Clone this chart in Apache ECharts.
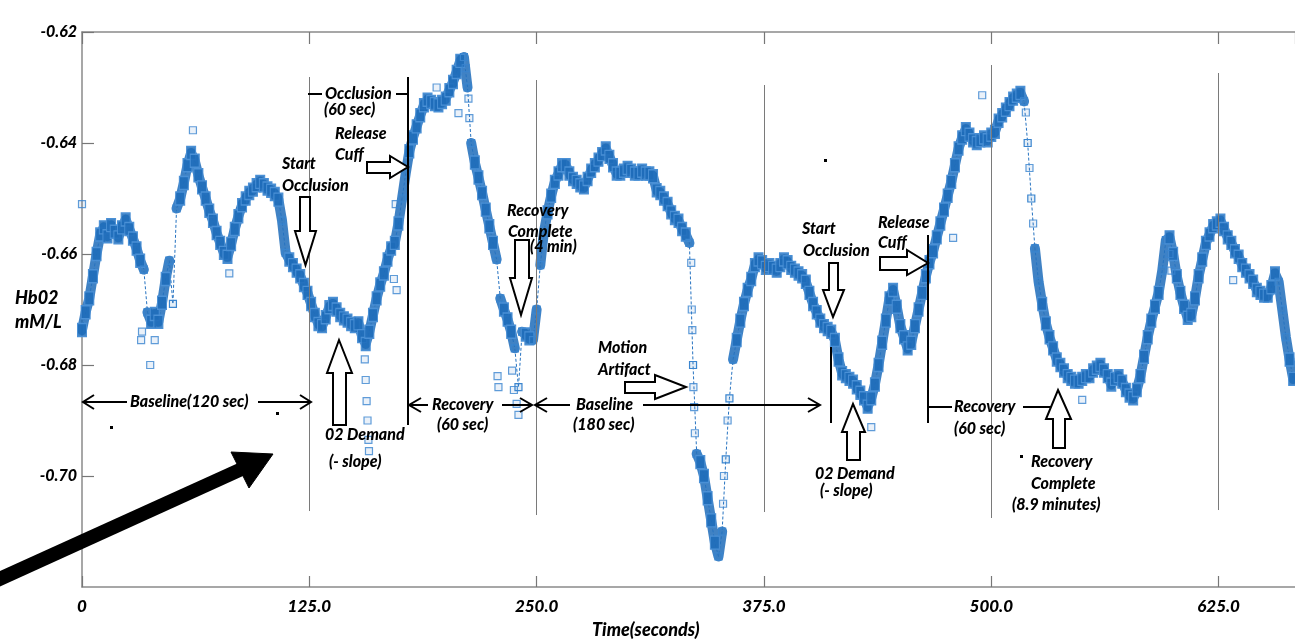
<!DOCTYPE html>
<html>
<head>
<meta charset="utf-8">
<script src="https://cdn.jsdelivr.net/npm/echarts@6/dist/echarts.min.js"></script>
<style>html,body{margin:0;padding:0;background:#fff;}#c{width:1295px;height:641px;}</style>
</head>
<body>
<div id="c"></div>
<script>
// ---- data ----
const SAMPLE_STEP = 2; // seconds between samples
const hbValues = [
-0.6737,-0.6705,-0.6680,-0.6640,-0.6600,-0.6565,-0.6552,-0.6568,-0.6548,-0.6560,
-0.6570,-0.6552,-0.6538,-0.6555,-0.6572,-0.6590,-0.6612,-0.6628,-0.6705,-0.6722,
-0.6708,-0.6722,-0.6688,-0.6645,-0.6612,-0.6690,-0.6518,-0.6500,-0.6472,-0.6440,
-0.6418,-0.6432,-0.6458,-0.6480,-0.6500,-0.6522,-0.6540,-0.6562,-0.6580,-0.6598,
-0.6605,-0.6582,-0.6555,-0.6532,-0.6512,-0.6500,-0.6490,-0.6484,-0.6476,-0.6470,
-0.6476,-0.6482,-0.6486,-0.6492,-0.6502,-0.6540,-0.6598,-0.6610,-0.6620,-0.6630,
-0.6640,-0.6656,-0.6670,-0.6690,-0.6710,-0.6726,-0.6730,-0.6714,-0.6696,-0.6690,
-0.6700,-0.6710,-0.6716,-0.6720,-0.6726,-0.6730,-0.6725,-0.6748,-0.6762,-0.6740,
-0.6710,-0.6680,-0.6655,-0.6635,-0.6610,-0.6590,-0.6580,-0.6545,-0.6500,-0.6455,
-0.6415,-0.6390,-0.6370,-0.6350,-0.6332,-0.6322,-0.6326,-0.6330,-0.6332,-0.6326,
-0.6320,-0.6305,-0.6290,-0.6272,-0.6252,-0.6245,-0.6300,-0.6400,-0.6435,-0.6462,
-0.6490,-0.6520,-0.6550,-0.6580,-0.6610,-0.6680,-0.6700,-0.6718,-0.6740,-0.6770,
-0.6840,-0.6740,-0.6745,-0.6752,-0.6755,-0.6700,-0.6620,-0.6560,-0.6525,-0.6495,
-0.6470,-0.6455,-0.6440,-0.6440,-0.6455,-0.6465,-0.6470,-0.6476,-0.6480,-0.6465,
-0.6450,-0.6440,-0.6430,-0.6420,-0.6410,-0.6425,-0.6440,-0.6455,-0.6455,-0.6450,
-0.6445,-0.6450,-0.6455,-0.6455,-0.6450,-0.6455,-0.6455,-0.6460,-0.6485,-0.6490,
-0.6500,-0.6510,-0.6525,-0.6535,-0.6540,-0.6555,-0.6565,-0.6580,-0.6800,-0.6960,
-0.6975,-0.7000,-0.7040,-0.7080,-0.7120,-0.7145,-0.7100,-0.6970,-0.6860,-0.6790,
-0.6755,-0.6720,-0.6690,-0.6665,-0.6645,-0.6620,-0.6610,-0.6615,-0.6625,-0.6620,
-0.6625,-0.6630,-0.6620,-0.6610,-0.6615,-0.6625,-0.6630,-0.6635,-0.6640,-0.6650,
-0.6670,-0.6690,-0.6705,-0.6720,-0.6730,-0.6735,-0.6740,-0.6755,-0.6790,-0.6815,
-0.6820,-0.6825,-0.6830,-0.6840,-0.6850,-0.6860,-0.6875,-0.6860,-0.6835,-0.6800,
-0.6760,-0.6720,-0.6680,-0.6665,-0.6695,-0.6730,-0.6750,-0.6770,-0.6760,-0.6730,
-0.6700,-0.6670,-0.6640,-0.6615,-0.6595,-0.6570,-0.6545,-0.6520,-0.6495,-0.6470,
-0.6440,-0.6410,-0.6390,-0.6375,-0.6385,-0.6395,-0.6400,-0.6395,-0.6390,-0.6395,
-0.6385,-0.6380,-0.6360,-0.6350,-0.6340,-0.6330,-0.6320,-0.6315,-0.6310,-0.6325,
-0.6400,-0.6500,-0.6590,-0.6650,-0.6690,-0.6725,-0.6750,-0.6770,-0.6790,-0.6800,
-0.6810,-0.6820,-0.6825,-0.6830,-0.6830,-0.6825,-0.6820,-0.6820,-0.6810,-0.6805,
-0.6800,-0.6810,-0.6820,-0.6835,-0.6825,-0.6820,-0.6830,-0.6845,-0.6855,-0.6860,
-0.6845,-0.6820,-0.6785,-0.6750,-0.6720,-0.6695,-0.6670,-0.6630,-0.6575,-0.6570,
-0.6600,-0.6640,-0.6670,-0.6695,-0.6715,-0.6710,-0.6680,-0.6640,-0.6610,-0.6580,
-0.6565,-0.6550,-0.6545,-0.6540,-0.6555,-0.6570,-0.6580,-0.6595,-0.6605,-0.6620,
-0.6630,-0.6640,-0.6650,-0.6665,-0.6670,-0.6675,-0.6675,-0.6660,-0.6635,-0.6650,
-0.6700,-0.6750,-0.6790,-0.6825
];
// scattered samples away from the main trace: [seconds, value]
const strayPoints = [
[0,-0.6510],[32.5,-0.6755],[33,-0.6740],[37.5,-0.6800],[40,-0.6755],[61,-0.6377],[81,-0.6635],
[155.5,-0.6790],[156,-0.6827],[156.5,-0.6865],[157,-0.6900],[157.5,-0.6935],[157.8,-0.6955],
[171.5,-0.6645],[172.5,-0.6510],[173,-0.6665],[195,-0.6300],[207,-0.6346],
[211,-0.6265],[212.5,-0.6320],[213,-0.6355],[228.5,-0.6820],[229,-0.6840],
[236.5,-0.6810],[237.5,-0.6845],[239,-0.6870],[240,-0.6890],
[335,-0.6616],[335.3,-0.6700],[335.6,-0.6737],[336.2,-0.6840],[336.6,-0.6876],[337,-0.6923],
[352.5,-0.7050],[353,-0.7000],[355,-0.6900],[434,-0.6912],[479,-0.6571],[495,-0.6314],
[519,-0.6345],[521,-0.6445],[523,-0.6545],[550,-0.6863],[598,-0.6600],[599,-0.6630],[633,-0.6647]
];
const xTicks = [0, 125, 250, 375, 500, 625];
const yTicks = [-0.62, -0.64, -0.66, -0.68, -0.70];
// partial vertical guide lines at the x ticks: [seconds, topValue, bottomValue]
const guideLines = [
[125,-0.62811,-0.70631],[250,-0.62865,-0.70703],[375,-0.62955,-0.70649],
[500,-0.62595,-0.70757],[625,-0.62739,-0.70613]
];

// ---- build ----
const series1 = hbValues.map((v, i) => [i * SAMPLE_STEP, v]);
const BLUE = '#2572c0';
const BAND = 'rgba(31,108,186,0.85)';
const FONT = 'Lato, "Open Sans", sans-serif';
const AX = '#8a8a8a';
const JUMP = 0.0065;   // larger steps are sparse (drawn as dashed link only)

function isSteep(i) {
  const a = hbValues[i], p = hbValues[i-1] ?? a, n = hbValues[i+1] ?? a;
  return Math.max(Math.abs(a-p), Math.abs(n-a)) > 0.0045;
}
// dense band: same samples, broken wherever the trace jumps
const bandData = [];
series1.forEach((p, i) => {
  bandData.push(p);
  if (i < series1.length - 1 && Math.abs(hbValues[i+1] - hbValues[i]) > JUMP) bandData.push([p[0] + SAMPLE_STEP/2, null]);
});

// annotations (pixel layout)
const annoTexts = [
 ['Occlusion',325,94],['(60 sec)',324,110],
 ['Release',335,134],['Cuff',335,155],
 ['Start',282,164],['Occlusion',282,186],
 ['Recovery',507,211],['Complete',508,232],['(4 min)',530,247],
 ['02 Demand',325,435],['(- slope)',329,462],
 ['Baseline(120 sec)',130,402],
 ['Recovery',432,405],['(60 sec)',437,425],
 ['Baseline',576,405],['(180 sec)',573,425],
 ['Motion',598,348],['Artifact',598,370],
 ['Start',802,229],['Occlusion',803,251],
 ['Release',878,223],['Cuff',878,243],
 ['02 Demand',815,474],['(- slope)',820,491],
 ['Recovery',954,407],['(60 sec)',954,429],
 ['Recovery',1031,462],['Complete',1031,484],['(8.9 minutes)',1012,505]
];
const blackLines = [
 [408,77,408,425],[308,94,322,94],[396,94,408,94],
 [831,347,831,423],[928,235,928,423],[928,407,952,407],[1023,407,1053,407],
 [83,402,127,402],[258,402,311,402],
 [409,405,428,405],[502,405,532,405],
 [535,405,570,405],[643,405,820,405]
];
const openHeads = [
 [[94,395],[83,402],[94,409]],[[300,395],[311,402],[300,409]],
 [[421,398],[409,405],[421,412]],[[520,398],[532,405],[520,412]],
 [[547,398],[535,405],[547,412]],[[808,398],[820,405],[808,412]]
];
const blockArrows = [
 [[300,197],[310,197],[310,231],[316,231],[305.5,265],[295,231],[300,231]],
 [[339,340],[352,373],[346,373],[346,425],[333,425],[333,373],[327,373]],
 [[367,162],[390,162],[390,156],[408,167],[390,178],[390,173],[367,173]],
 [[515,240],[529,240],[529,278],[532,278],[521,315],[510,278],[515,278]],
 [[625,382],[655,382],[655,375],[686,387],[655,399],[655,393],[625,393]],
 [[829,263],[838,263],[838,290],[844,290],[833,317],[823,290],[829,290]],
 [[880,257],[907,257],[907,250],[928,263],[907,275],[907,270],[880,270]],
 [[853,404],[865,432],[860,432],[860,460],[847,460],[847,432],[842,432]],
 [[1058,390],[1071,419],[1065,419],[1065,448],[1053,448],[1053,419],[1046,419]]
];

const graphics = [];
const TXT = (t,x,y,size) => ({type:'text', z:100, silent:true,
  style:{text:t, x:x, y:y, fill:'#000', font:'italic 900 ' + size + 'px ' + FONT,
         textAlign:'left', textVerticalAlign:'middle', align:'left', verticalAlign:'middle'}});
annoTexts.forEach(([t,x,y]) => graphics.push(TXT(t,x,y,16)));
[['Hb02',15,298],['mM/L',15,322],['Time(seconds)',592,630]].forEach(([t,x,y]) => graphics.push(TXT(t,x,y,18)));
blackLines.forEach(([x1,y1,x2,y2]) => graphics.push({type:'line', z:100, silent:true,
  shape:{x1,y1,x2,y2}, style:{stroke:'#000', lineWidth:2}}));
openHeads.forEach(p => graphics.push({type:'polyline', z:100, silent:true,
  shape:{points:p}, style:{stroke:'#000', lineWidth:2, fill:null}}));
blockArrows.forEach(p => graphics.push({type:'polygon', z:100, silent:true,
  shape:{points:p}, style:{fill:'#fff', stroke:'#000', lineWidth:2}}));
// big diagonal pointer
graphics.push({type:'line', z:100, silent:true, shape:{x1:-5,y1:581,x2:244,y2:468}, style:{stroke:'#000', lineWidth:14}});
graphics.push({type:'polygon', z:100, silent:true, shape:{points:[[273,454],[231,452],[249,488]]}, style:{fill:'#000', stroke:'#000', lineWidth:1}});
// stray specks
[[111,427],[277,413],[1021,456],[825,160]].forEach(([x,y]) => graphics.push({type:'rect', z:100, silent:true,
  shape:{x:x-1,y:y-1,width:3,height:3}, style:{fill:'#000'}}));

const axisFont = {fontFamily:FONT, fontStyle:'italic', fontWeight:900, fontSize:17, color:'#000'};
const hollow = {color:'rgba(37,114,192,0.12)', borderColor:'#3a85cf', borderWidth:1.2};
const dense = {color:BAND, borderColor:'#4a90d6', borderWidth:1.2};

const option = {
  animation:false,
  grid:{left:82, right:0, top:32, bottom:54, containLabel:false},
  xAxis:[{
    type:'value', min:0, max:667, interval:125, position:'bottom',
    axisLine:{show:true, lineStyle:{color:AX, width:1.5}},
    axisTick:{show:true, inside:true, length:11, lineStyle:{color:'#777', width:1.2}},
    axisLabel:Object.assign({margin:11, showMaxLabel:false, formatter:v => xTicks.includes(v) ? (v===0 ? '0' : v.toFixed(1)) : ''}, axisFont),
    splitLine:{show:false}
  },{
    type:'value', min:0, max:667, interval:125, position:'top',
    axisLine:{show:true, lineStyle:{color:AX, width:1.5}},
    axisTick:{show:true, inside:true, length:12, lineStyle:{color:'#777', width:1.2}},
    axisLabel:{show:false}, splitLine:{show:false}
  }],
  yAxis:{
    type:'value', min:-0.72, max:-0.62, interval:0.02,
    axisLine:{show:true, lineStyle:{color:AX, width:1.5}},
    axisTick:{show:true, inside:true, length:12, lineStyle:{color:'#777', width:1.2}},
    axisLabel:Object.assign({margin:5, showMinLabel:false, formatter:v => {
      const r = Math.round(v*100)/100; return yTicks.some(t => Math.abs(t-r)<1e-9) ? r.toFixed(2) : ''; }}, axisFont, {fontSize:16}),
    splitLine:{show:false}
  },
  series:[{
    // dense band body
    type:'line', xAxisIndex:0, data:bandData, symbol:'none', connectNulls:false,
    lineStyle:{color:BAND, width:10, cap:'round', join:'round'},
    emphasis:{disabled:true}, silent:true, z:2
  },{
    type:'line', xAxisIndex:0, showAllSymbol:true, symbol:'rect',
    data:series1.map((p, i) => isSteep(i)
      ? {value:p, symbolSize:7, itemStyle:hollow}
      : {value:p, symbolSize:[9,13], itemStyle:dense}),
    lineStyle:{color:BLUE, width:1, type:[3,2]},
    itemStyle:dense,
    emphasis:{disabled:true}, z:3,
    markLine:{silent:true, symbol:'none', animation:false, label:{show:false},
      lineStyle:{color:'#7a7a7a', width:1, type:'solid'},
      data:guideLines.map(([t,a,b]) => [{coord:[t,a]},{coord:[t,b]}])}
  },{
    type:'scatter', data:strayPoints, xAxisIndex:0,
    symbol:'rect', symbolSize:7, itemStyle:hollow,
    emphasis:{disabled:true}, z:3
  }],
  graphic:graphics
};
const chart = echarts.init(document.getElementById('c'), null, {renderer:'canvas'});
chart.setOption(option);
</script>
</body>
</html>
